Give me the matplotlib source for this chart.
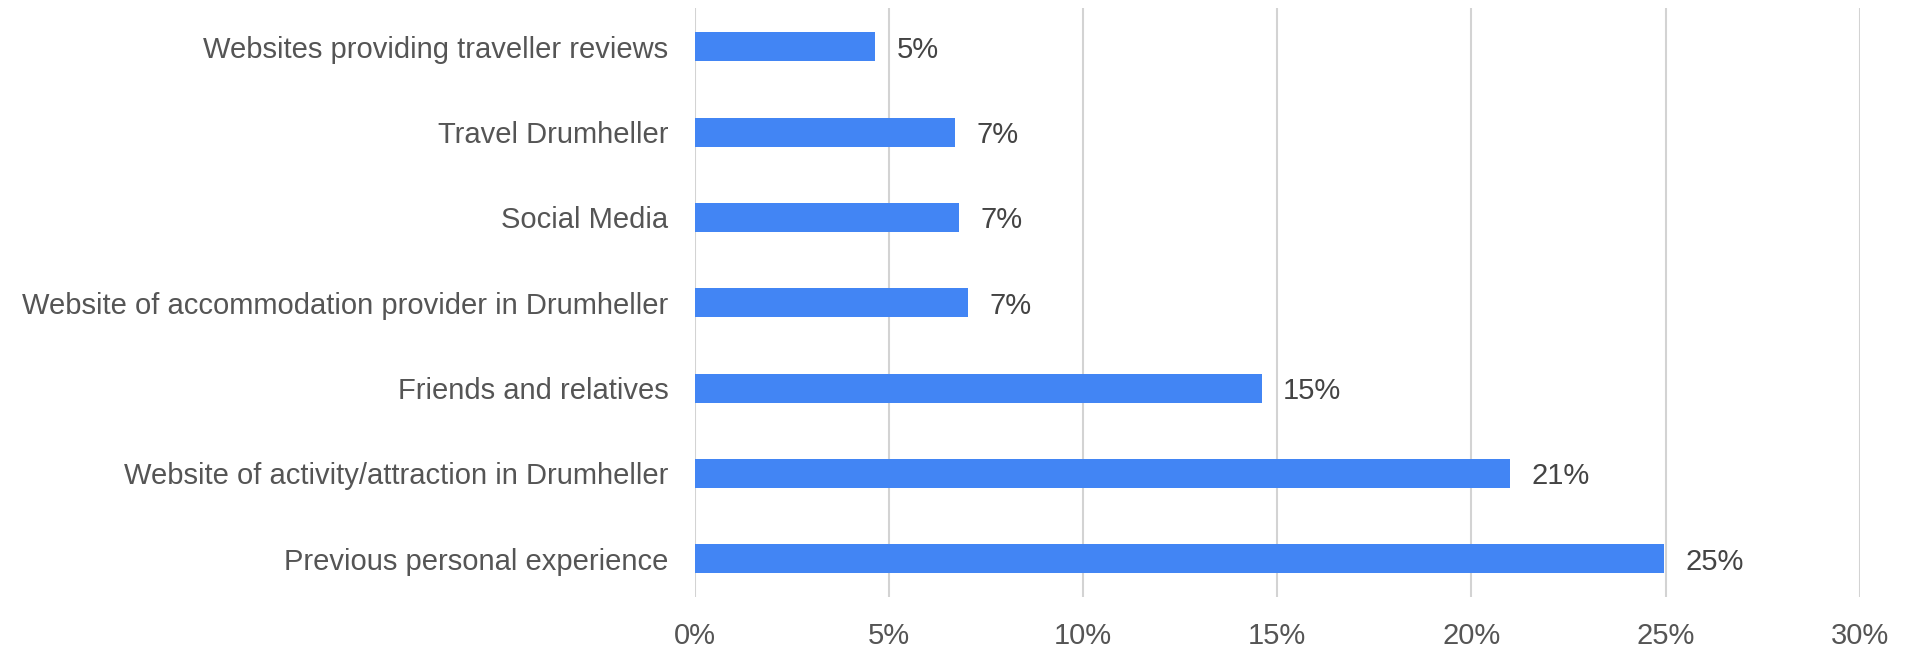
import matplotlib
matplotlib.use('Agg')
from matplotlib import pyplot as plt
from matplotlib.ticker import FuncFormatter

plt.rcParams['font.family'] = ['Liberation Sans', 'DejaVu Sans']

categories = ['Websites providing traveller reviews',
              'Travel Drumheller',
              'Social Media',
              'Website of accommodation provider in Drumheller',
              'Friends and relatives',
              'Website of activity/attraction in Drumheller',
              'Previous personal experience']
values = [4.65, 6.7, 6.8, 7.05, 14.6, 21.0, 24.95]
value_labels = ['5%', '7%', '7%', '7%', '15%', '21%', '25%']
xticks = [0, 5, 10, 15, 20, 25, 30]

fig = plt.figure(figsize=(19.11, 6.5), dpi=100)
ax = fig.add_axes([0.3635, 0.0815, 0.6097, 0.9055])

ypos = list(range(len(categories)))
ax.barh(ypos, values, height=0.34, color='#4285F4', zorder=3)
for y, v, lab in zip(ypos, values, value_labels):
    ax.text(v + 0.55, y, lab, va='center_baseline', ha='left', fontsize=21, color='#444444', zorder=4)

ax.set_yticks(ypos)
ax.set_yticklabels(categories)
ax.set_ylim(len(categories) - 0.55, -0.45)
ax.set_xlim(0, 30)
ax.set_xticks(xticks)
ax.xaxis.set_major_formatter(FuncFormatter(lambda x, p: f'{x:.0f}%'))
ax.grid(axis='x', color='#d3d3d3', linewidth=1.5, zorder=0)
for s in ax.spines.values():
    s.set_visible(False)
ax.tick_params(axis='both', length=0, labelsize=21, labelcolor='#555555')
ax.tick_params(axis='y', pad=19)
ax.tick_params(axis='x', pad=18)

plt.savefig('out.png', dpi=100)
